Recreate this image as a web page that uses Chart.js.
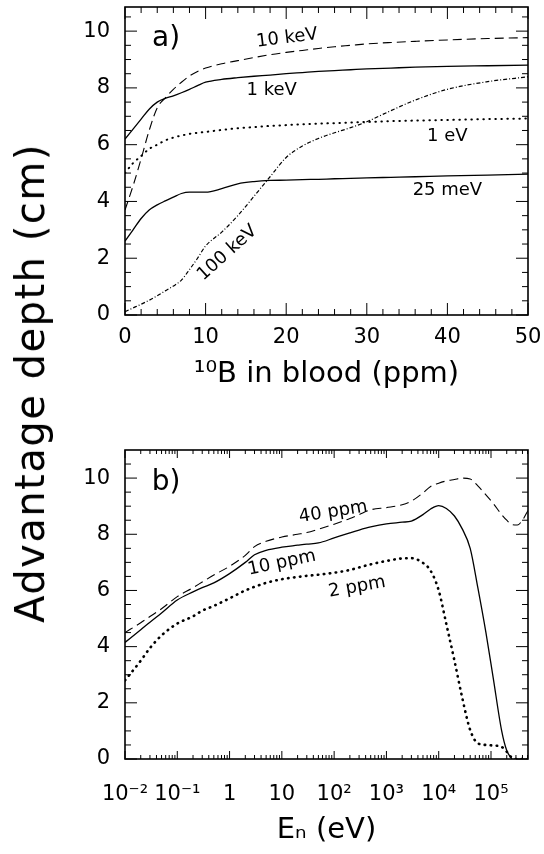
<!DOCTYPE html>
<html>
<head>
<meta charset="utf-8">
<script src="https://cdn.jsdelivr.net/npm/chart.js@4.4.0/dist/chart.umd.min.js"></script>
<style>
  html, body { margin: 0; padding: 0; background: #fff; }
  body { width: 544px; height: 854px; position: relative; overflow: hidden; font-family: "DejaVu Sans", sans-serif; }
  #chartA { position: absolute; left: 0; top: 0; }
  #chartB { position: absolute; left: 0; top: 400px; }
  #yTitle { position: absolute; left: 30px; top: 383px; transform: translate(-50%, -50%) rotate(-90deg);
            font-size: 40px; line-height: 1; letter-spacing: 1.5px; white-space: nowrap; color: #000; }
</style>
</head>
<body>
<canvas id="chartA" width="544" height="400"></canvas>
<canvas id="chartB" width="544" height="454"></canvas>
<div id="yTitle">Advantage depth (cm)</div>
<script>
// a) advantage depth against 10B in blood, one curve per neutron energy
const ppm = [0, 1, 2, 3, 4, 5, 6, 7, 8, 9, 10, 12, 14, 16, 18, 20, 22, 24, 26, 28, 30, 33, 36, 40, 45, 50];
const depth25meV = [2.6, 3.0, 3.4, 3.7, 3.88, 4.02, 4.15, 4.28, 4.33, 4.33, 4.33, 4.45, 4.62, 4.7, 4.74, 4.75, 4.77, 4.78, 4.8, 4.81, 4.83, 4.85, 4.87, 4.9, 4.93, 4.96];
const depth1eV = [5.0, 5.35, 5.6, 5.85, 6.0, 6.15, 6.25, 6.32, 6.38, 6.42, 6.45, 6.52, 6.58, 6.62, 6.66, 6.69, 6.72, 6.74, 6.76, 6.78, 6.8, 6.83, 6.85, 6.87, 6.9, 6.92];
const depth1keV = [6.2, 6.55, 6.9, 7.25, 7.5, 7.63, 7.72, 7.83, 7.95, 8.08, 8.2, 8.3, 8.36, 8.41, 8.45, 8.5, 8.54, 8.58, 8.61, 8.64, 8.67, 8.7, 8.73, 8.76, 8.78, 8.8];
const depth10keV = [3.7, 4.55, 5.5, 6.5, 7.3, 7.65, 7.95, 8.2, 8.42, 8.58, 8.7, 8.85, 8.96, 9.07, 9.17, 9.25, 9.32, 9.39, 9.45, 9.5, 9.55, 9.6, 9.64, 9.69, 9.74, 9.77];
const depth100keV = [0.12, 0.25, 0.38, 0.52, 0.68, 0.85, 1.02, 1.23, 1.6, 2.0, 2.43, 2.92, 3.5, 4.18, 4.87, 5.55, 5.95, 6.22, 6.42, 6.6, 6.81, 7.2, 7.57, 7.95, 8.22, 8.39];
const ppmTicks = [0, 10, 20, 30, 40, 50];

// b) advantage depth against neutron energy, one curve per 10B concentration
const energy = [0.01, 0.02, 0.03, 0.05, 0.1, 0.2, 0.3, 0.5, 1, 2, 3, 5, 10, 20, 30, 50, 100, 200, 300, 500,
  1e3, 2e3, 3e3, 5e3, 7e3, 1e4, 1.4e4, 2e4, 2.8e4, 4e4, 5.6e4, 8e4, 1.1e5, 1.6e5, 2e5, 2.5e5, 3.2e5, 4e5, 5.1e5];
const depth2ppm = [2.8, 3.5, 3.95, 4.4, 4.82, 5.08, 5.28, 5.45, 5.72, 6.0, 6.13, 6.27, 6.4, 6.48, 6.52, 6.56, 6.63, 6.73, 6.82, 6.93,
  7.05, 7.14, 7.15, 6.98, 6.7, 6.0, 4.8, 3.5, 2.2, 1.03, 0.56, 0.5, 0.48, 0.43, 0.26, 0.05, 0, 0, 0];
const depth10ppm = [4.15, 4.6, 4.87, 5.2, 5.66, 5.95, 6.1, 6.27, 6.6, 7.0, 7.27, 7.43, 7.54, 7.61, 7.65, 7.69, 7.87, 8.05, 8.15, 8.26,
  8.37, 8.43, 8.47, 8.7, 8.9, 9.02, 8.92, 8.65, 8.2, 7.5, 6.1, 4.5, 2.9, 1.0, 0.3, 0, null, null, null];
const depth40ppm = [4.5, 4.85, 5.07, 5.35, 5.78, 6.1, 6.3, 6.55, 6.86, 7.25, 7.56, 7.75, 7.9, 8.0, 8.06, 8.18, 8.36, 8.56, 8.7, 8.87,
  8.95, 9.05, 9.18, 9.47, 9.7, 9.82, 9.9, 9.95, 10.0, 9.97, 9.72, 9.4, 9.1, 8.7, 8.5, 8.35, 8.33, 8.5, 8.85];
const energyTicks = [1e-2, 1e-1, 1, 10, 1e2, 1e3, 1e4, 1e5];
const energyLabels = ['10⁻²', '10⁻¹', '1', '10', '10²', '10³', '10⁴', '10⁵'];

const depthTicks = [0, 2, 4, 6, 8, 10];

Chart.defaults.font.family = '"DejaVu Sans", sans-serif';
Chart.defaults.color = '#000';

function toXY(xs, ys) {
  return xs.map((x, i) => ({ x: x, y: ys[i] }));
}

function curve(xs, ys, dash, width, cap) {
  return {
    data: toXY(xs, ys),
    borderColor: '#000',
    borderWidth: width || 1.3,
    borderDash: dash || [],
    borderCapStyle: cap || 'butt',
    pointRadius: 0,
    fill: false,
    cubicInterpolationMode: 'monotone'
  };
}

// frame with inward ticks on all four sides, plus the in-plot labels
function framePlugin(xMarks, yMarks, notes) {
  return {
    id: 'frame',
    afterDraw(chart) {
      const { ctx, chartArea: a, scales: { x, y } } = chart;
      ctx.save();
      ctx.strokeStyle = '#000';
      ctx.lineWidth = 1;
      ctx.beginPath();
      xMarks.forEach(m => {
        const p = x.getPixelForValue(m.v);
        ctx.moveTo(p, a.bottom); ctx.lineTo(p, a.bottom - m.len);
        ctx.moveTo(p, a.top); ctx.lineTo(p, a.top + m.len);
      });
      yMarks.forEach(m => {
        const p = y.getPixelForValue(m.v);
        ctx.moveTo(a.left, p); ctx.lineTo(a.left + m.len, p);
        ctx.moveTo(a.right, p); ctx.lineTo(a.right - m.len, p);
      });
      ctx.stroke();
      ctx.lineWidth = 1.6;
      ctx.strokeRect(a.left, a.top, a.right - a.left, a.bottom - a.top);

      ctx.fillStyle = '#000';
      ctx.textAlign = 'center';
      ctx.textBaseline = 'middle';
      notes.forEach(n => {
        ctx.save();
        ctx.translate(x.getPixelForValue(n.x), y.getPixelForValue(n.y));
        ctx.rotate(n.rot * Math.PI / 180);
        ctx.font = n.size + 'px "DejaVu Sans", sans-serif';
        ctx.fillText(n.text, 0, 0);
        ctx.restore();
      });
      ctx.restore();
    }
  };
}

function yScale(max) {
  return {
    min: 0,
    max: max,
    afterBuildTicks: s => { s.ticks = depthTicks.map(v => ({ value: v })); },
    afterFit: s => { s.width = 125; s.paddingTop = 0; s.paddingBottom = 0; },
    grid: { display: false, drawTicks: false },
    border: { display: false },
    ticks: { padding: 15, font: { size: 21 } }
  };
}

// minor / major tick marks
const ppmMarks = [];
for (let v = 0; v <= 50; v += 2) ppmMarks.push({ v: v, len: v % 10 === 0 ? 12 : 6 });
const depthMarks = [];
for (let i = 0; i <= 21; i++) depthMarks.push({ v: i / 2, len: i % 4 === 0 ? 12 : 6 });
const energyMarks = [];
for (let d = -2; d <= 5; d++) {
  for (let m = 1; m <= 9; m++) {
    const v = m * Math.pow(10, d);
    if (v <= 5.1e5) energyMarks.push({ v: v, len: m === 1 ? 8 : 4 });
  }
}

const notesA = [
  { text: 'a)', x: 5.1, y: 9.75, size: 28, rot: 0 },
  { text: '10 keV', x: 20.1, y: 9.75, size: 18, rot: -7 },
  { text: '1 keV', x: 18.2, y: 7.92, size: 18, rot: 0 },
  { text: '1 eV', x: 40, y: 6.3, size: 18, rot: 0 },
  { text: '25 meV', x: 40, y: 4.4, size: 18, rot: 0 },
  { text: '100 keV', x: 12.7, y: 2.18, size: 18, rot: -42 }
];
const notesB = [
  { text: 'b)', x: 0.061, y: 9.82, size: 28, rot: 0 },
  { text: '40 ppm', x: 96, y: 8.79, size: 18, rot: -9 },
  { text: '10 ppm', x: 10, y: 6.98, size: 18, rot: -12 },
  { text: '2 ppm', x: 275, y: 6.12, size: 18, rot: -10 }
];

new Chart(document.getElementById('chartA'), {
  type: 'line',
  data: {
    datasets: [
      curve(ppm, depth25meV),
      curve(ppm, depth1eV, [0.5, 5.5], 2, 'round'),
      curve(ppm, depth1keV),
      curve(ppm, depth10keV, [9, 5], 1.1),
      curve(ppm, depth100keV, [4, 2, 1, 2], 1.2)
    ]
  },
  options: {
    responsive: false,
    animation: false,
    layout: { padding: { left: 0, right: 16, top: 7, bottom: 0 } },
    plugins: { legend: { display: false }, tooltip: { enabled: false } },
    scales: {
      x: {
        type: 'linear',
        min: 0,
        max: 50,
        afterBuildTicks: s => { s.ticks = ppmTicks.map(v => ({ value: v })); },
        afterFit: s => { s.height = 85; s.paddingLeft = 0; s.paddingRight = 0; },
        grid: { display: false, drawTicks: false },
        border: { display: false },
        ticks: { padding: 10, maxRotation: 0, autoSkip: false, font: { size: 21 } },
        title: { display: true, text: '¹⁰B in blood (ppm)', font: { size: 29 }, padding: { top: 0, bottom: 8 } }
      },
      y: yScale(10.85)
    }
  },
  plugins: [framePlugin(ppmMarks, depthMarks, notesA)]
});

new Chart(document.getElementById('chartB'), {
  type: 'line',
  data: {
    datasets: [
      curve(energy, depth2ppm, [0.5, 5.5], 2.6, 'round'),
      curve(energy, depth10ppm),
      curve(energy, depth40ppm, [9, 5], 1.1)
    ]
  },
  options: {
    responsive: false,
    animation: false,
    layout: { padding: { left: 0, right: 16, top: 50, bottom: 0 } },
    plugins: { legend: { display: false }, tooltip: { enabled: false } },
    scales: {
      x: {
        type: 'logarithmic',
        min: 0.01,
        max: 5.1e5,
        afterBuildTicks: s => { s.ticks = energyTicks.map(v => ({ value: v })); },
        afterFit: s => { s.height = 95; s.paddingLeft = 0; s.paddingRight = 0; },
        grid: { display: false, drawTicks: false },
        border: { display: false },
        ticks: {
          padding: 23, maxRotation: 0, autoSkip: false, font: { size: 21 },
          callback: (value, index) => energyLabels[index]
        },
        title: { display: true, text: 'Eₙ (eV)', font: { size: 29 }, padding: { top: 0, bottom: 6 } }
      },
      y: yScale(11)
    }
  },
  plugins: [framePlugin(energyMarks, depthMarks, notesB)]
});
</script>
</body>
</html>
